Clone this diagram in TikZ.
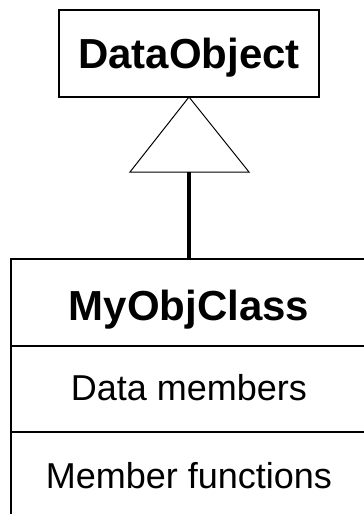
\documentclass[tikz,border=0pt]{standalone}
\usepackage{fontspec}
\setmainfont{Liberation Sans}
\begin{document}
\begin{tikzpicture}[x=1pt,y=-1pt,
  umlbox/.style={draw=black, line width=1.3pt, rectangle, inner sep=0pt, outer sep=0pt, text depth=0pt},
  titletext/.style={font=\fontsize{42}{50}\selectfont\bfseries},
  membertext/.style={font=\fontsize{36}{43}\selectfont},
  triline/.style={draw=black, line width=1pt, line join=miter},
  inherit/.style={draw=black, line width=3.3pt}
]
\useasboundingbox (0,0) rectangle (364,514);
\clip (0,0) rectangle (364,514);
% parent class
\node[umlbox, titletext, minimum width=260pt, minimum height=87pt, text height=30pt] (parent) at (189,53.5) {DataObject};
% child class compartments
\node[umlbox, titletext, minimum width=356pt, minimum height=87pt, text height=35pt] (child) at (189,302.5) {MyObjClass};
\node[umlbox, membertext, minimum width=356pt, minimum height=86pt, text height=22pt] (data) at (189,389) {Data members};
\node[umlbox, membertext, minimum width=356pt, minimum height=88pt, text height=24pt] (funcs) at (189,476) {Member functions};
% generalization triangle
\coordinate (apex) at (parent.south);
\coordinate (baseL) at (130,172);
\coordinate (baseR) at (249,172);
\coordinate (basemid) at (189,172);
\draw[triline] (apex) -- (baseL) -- (baseR) -- cycle;
\draw[inherit] (basemid) -- (child.north);
\end{tikzpicture}
\end{document}
